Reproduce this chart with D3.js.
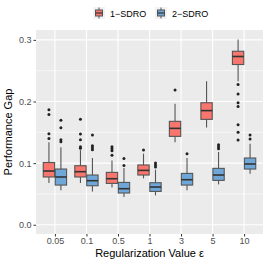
<!DOCTYPE html>
<html><head><meta charset="utf-8">
<script src="https://cdn.jsdelivr.net/npm/d3@7"></script>
<style>body{margin:0;background:#fff}svg{display:block}</style>
</head><body>
<script>
const categories = ["0.05","0.1","0.5","1","3","5","10"];
const seriesNames = ["1\u2212SDRO","2\u2212SDRO"];
const seriesColors = ["#F8766D","#6FA8D8"];
const yTicks = [0,0.1,0.2,0.3];
const yTickLabels = ["0.0","0.1","0.2","0.3"];
// [lowerWhisker, q1, median, q3, upperWhisker]
const sdro1Stats = [
  [0.0677,0.0775,0.0872,0.1010,0.1337],
  [0.0677,0.0775,0.0861,0.0958,0.1210],
  [0.0606,0.0671,0.0747,0.0850,0.1044],
  [0.0752,0.0807,0.0882,0.0970,0.1153],
  [0.1337,0.1434,0.1564,0.1678,0.1965],
  [0.1580,0.1710,0.1852,0.1980,0.2328],
  [0.2328,0.2600,0.2730,0.2815,0.3004]
];
const sdro1Outliers = [
  [0.1868,0.1787,0.1478,0.1400],
  [0.1710,0.1473,0.1380,0.1265,0.1240],
  [0.1267,0.1234,0.1202,0.1126],
  [0.1213],
  [0.2187],
  [],
  [0.2274,0.2123,0.1980,0.1917,0.1624,0.1500,0.1375]
];
const sdro2Stats = [
  [0.0558,0.0644,0.0775,0.0904,0.1256],
  [0.0540,0.0633,0.0715,0.0807,0.1083],
  [0.0450,0.0515,0.0585,0.0687,0.0920],
  [0.0476,0.0541,0.0612,0.0682,0.0893],
  [0.0558,0.0644,0.0731,0.0833,0.1083],
  [0.0655,0.0720,0.0807,0.0915,0.1180],
  [0.0828,0.0904,0.0986,0.1083,0.1315]
];
const sdro2Outliers = [
  [0.1694,0.1575,0.1380,0.1348],
  [0.1457,0.1283,0.1250,0.1218],
  [0.1077,0.0963],
  [0.1002,0.0970,0.0937],
  [0.1153],
  [0.1300,0.1267,0.1234],
  [0.1457,0.1390]
];

const W=266,H=266;
const P={l:36,r:263,t:30,b:234};
const svg=d3.select("body").append("svg").attr("width",W).attr("height",H);
const font="'Liberation Sans',Arial,Helvetica,sans-serif";

// x: discrete with 0.6 expansion
const x=d3.scaleLinear().domain([-0.6,categories.length-1+0.6]).range([P.l,P.r]);
const y=d3.scaleLinear().domain([-0.015,0.316]).range([P.b,P.t]);

svg.append("rect").attr("x",P.l).attr("y",P.t).attr("width",P.r-P.l).attr("height",P.b-P.t).attr("fill","#EBEBEB");
// minor grid
const g=svg.append("g");
[0.05,0.15,0.25].forEach(v=>g.append("line").attr("x1",P.l).attr("x2",P.r).attr("y1",y(v)).attr("y2",y(v)).attr("stroke","#fff").attr("stroke-width",0.55));
yTicks.forEach(v=>g.append("line").attr("x1",P.l).attr("x2",P.r).attr("y1",y(v)).attr("y2",y(v)).attr("stroke","#fff").attr("stroke-width",1.1));
categories.forEach((c,i)=>g.append("line").attr("x1",x(i)).attr("x2",x(i)).attr("y1",P.t).attr("y2",P.b).attr("stroke","#fff").attr("stroke-width",1.1));

// axes
const yAxis=d3.axisLeft(y).tickValues(yTicks).tickFormat((d,i)=>yTickLabels[i]).tickSize(2.5).tickPadding(2);
const ya=svg.append("g").attr("transform",`translate(${P.l},0)`).call(yAxis);
ya.select(".domain").remove();
ya.selectAll("line").attr("stroke","#333");
ya.selectAll("text").attr("fill","#4D4D4D").style("font-family",font).style("font-size","9px");
const xAxis=d3.axisBottom(x).tickValues(d3.range(categories.length)).tickFormat(i=>categories[i]).tickSize(2.5).tickPadding(1.5);
const xa=svg.append("g").attr("transform",`translate(0,${P.b})`).call(xAxis);
xa.select(".domain").remove();
xa.selectAll("line").attr("stroke","#333");
xa.selectAll("text").attr("fill","#4D4D4D").style("font-family",font).style("font-size","9px");

svg.append("text").attr("x",(P.l+P.r)/2).attr("y",256.5).attr("text-anchor","middle")
  .style("font-family",font).style("font-size","11px").attr("fill","#000").text("Regularization Value \u03B5");
svg.append("text").attr("transform",`translate(12,${(P.t+P.b)/2}) rotate(-90)`).attr("text-anchor","middle")
  .style("font-family",font).style("font-size","11px").attr("fill","#000").text("Performance Gap");

// boxes
const dodge=0.19, half=0.18;
const series=[{stats:sdro1Stats,out:sdro1Outliers,off:-dodge,col:seriesColors[0]},{stats:sdro2Stats,out:sdro2Outliers,off:dodge,col:seriesColors[1]}];
const stroke="#555";
series.forEach(s=>{
  s.stats.forEach((st,i)=>{
    const cx=x(i+s.off), x0=x(i+s.off-half), x1=x(i+s.off+half);
    const gg=svg.append("g");
    gg.append("line").attr("x1",cx).attr("x2",cx).attr("y1",y(st[4])).attr("y2",y(st[3])).attr("stroke",stroke).attr("stroke-width",1.1);
    gg.append("line").attr("x1",cx).attr("x2",cx).attr("y1",y(st[1])).attr("y2",y(st[0])).attr("stroke",stroke).attr("stroke-width",1.1);
    gg.append("rect").attr("x",x0).attr("width",x1-x0).attr("y",y(st[3])).attr("height",y(st[1])-y(st[3]))
      .attr("fill",s.col).attr("stroke",stroke).attr("stroke-width",1.1);
    gg.append("line").attr("x1",x0).attr("x2",x1).attr("y1",y(st[2])).attr("y2",y(st[2])).attr("stroke","#333").attr("stroke-width",1.6);
    s.out[i].forEach(v=>gg.append("circle").attr("cx",cx).attr("cy",y(v)).attr("r",1.5).attr("fill","#222"));
  });
});

// legend
const legX=[93,155], legTextX=[110,172];
seriesNames.forEach((n,k)=>{
  const lx=legX[k], ly=7;
  svg.append("rect").attr("x",lx).attr("y",ly).attr("width",12).attr("height",12).attr("fill","#F2F2F2");
  svg.append("line").attr("x1",lx+6).attr("x2",lx+6).attr("y1",ly+0.5).attr("y2",ly+11.5).attr("stroke",stroke).attr("stroke-width",1);
  svg.append("rect").attr("x",lx+2.5).attr("y",ly+3).attr("width",7).attr("height",6).attr("fill",seriesColors[k]).attr("stroke",stroke).attr("stroke-width",1);
  svg.append("line").attr("x1",lx+2.5).attr("x2",lx+9.5).attr("y1",ly+6).attr("y2",ly+6).attr("stroke","#333").attr("stroke-width",1.2);
  svg.append("text").attr("x",legTextX[k]).attr("y",ly+9.5).style("font-family",font).style("font-size","9px").attr("fill","#000").text(n);
});
</script>
</body></html>
